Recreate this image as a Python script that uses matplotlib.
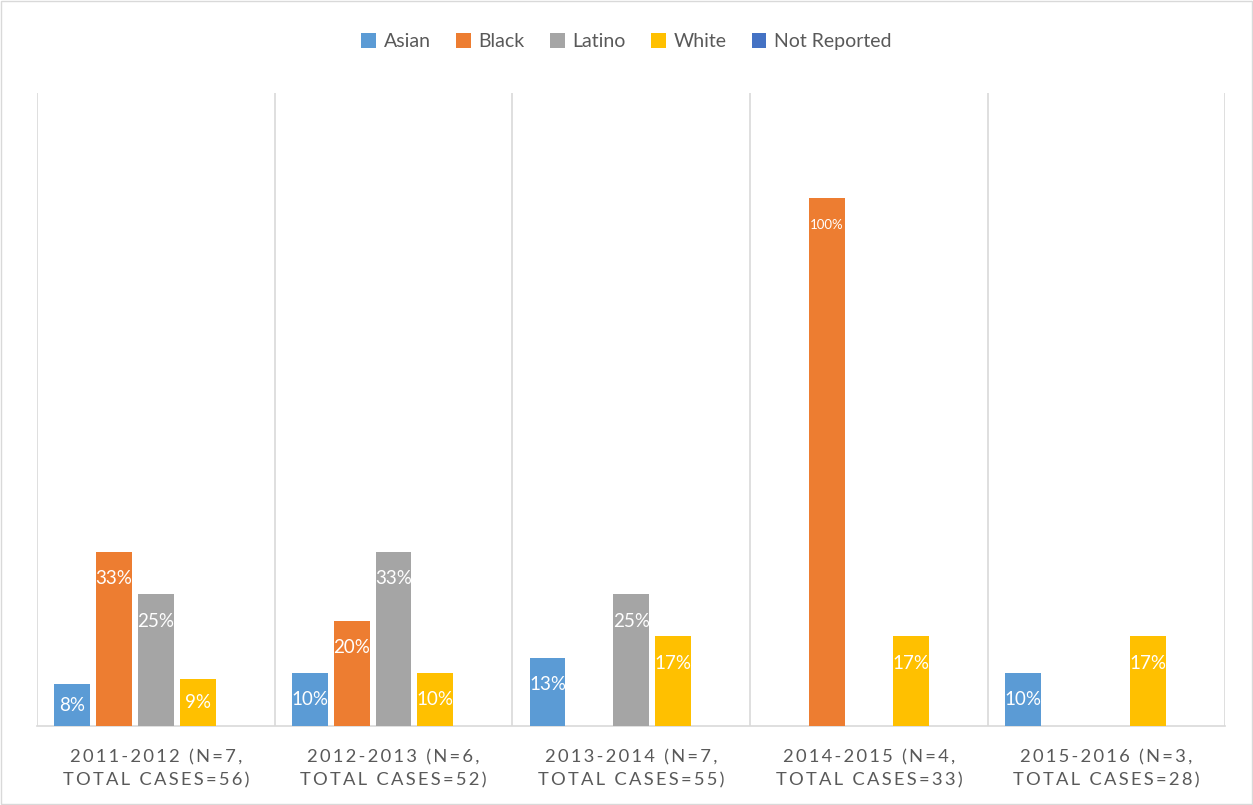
import matplotlib
matplotlib.use("Agg")
import matplotlib.pyplot as plt
import numpy as np

categories = ["2011-2012 (N=7,\nTOTAL CASES=56)",
              "2012-2013 (N=6,\nTOTAL CASES=52)",
              "2013-2014 (N=7,\nTOTAL CASES=55)",
              "2014-2015 (N=4,\nTOTAL CASES=33)",
              "2015-2016 (N=3,\nTOTAL CASES=28)"]
series_names = ["Asian", "Black", "Latino", "White", "Not Reported"]
asian = [8, 10, 13, 0, 10]
black = [33, 20, 0, 100, 0]
latino = [25, 33, 25, 0, 0]
white = [9, 10, 17, 17, 17]
not_reported = [0, 0, 0, 0, 0]
colors = ["#5B9BD5", "#ED7D31", "#A5A5A5", "#FFC000", "#4472C4"]

plt.rcParams['font.family'] = ['Lato', 'DejaVu Sans']

def spaced(s):
    return "\n".join("\u2009".join(line) for line in s.split("\n"))

fig = plt.figure(figsize=(12.53, 8.05), dpi=100)
ax = fig.add_axes([0.0295, 0.098, 0.9485, 0.7865])

data = [asian, black, latino, white, not_reported]
x = np.arange(len(categories))
step = 0.176
width = 0.151
for i, (name, vals, c) in enumerate(zip(series_names, data, colors)):
    pos = x + (i - 2) * step
    ax.bar(pos, vals, width=width, color=c, label=name, zorder=3)
    for p, v in zip(pos, vals):
        if v > 0:
            fs = 9.5 if v >= 100 else 13.5
            ax.text(p, v - min(5.1, v / 2), f"{v}%", ha='center', va='center',
                    color='white', fontsize=fs, zorder=4)

ax.set_xlim(-0.5, len(categories) - 0.5)
ax.set_ylim(0, 120)
ax.set_yticks([])
ax.set_xticks(x)
ax.set_xticklabels([spaced(c) for c in categories], fontsize=13.2, color='#595959',
                   linespacing=1.5)
ax.tick_params(axis='x', length=0, pad=17)
for b in np.arange(-0.5, len(categories), 1.0):
    ax.axvline(b, color='#D9D9D9', lw=1.2, zorder=1)
for s in ['top', 'left', 'right']:
    ax.spines[s].set_visible(False)
ax.spines['bottom'].set_color('#D9D9D9')
ax.spines['bottom'].set_linewidth(1.2)

leg = fig.legend(loc='center', bbox_to_anchor=(0.5, 0.948), ncol=5, frameon=False,
                 fontsize=14, handlelength=0.75, handleheight=0.75, columnspacing=1.3,
                 handletextpad=0.4)
for t in leg.get_texts():
    t.set_color('#595959')

fig.patches.append(plt.Rectangle((0.001, 0.001), 0.998, 0.998, transform=fig.transFigure,
                                 fill=False, edgecolor='#D9D9D9', lw=1))

fig.savefig("out.png", dpi=100)
